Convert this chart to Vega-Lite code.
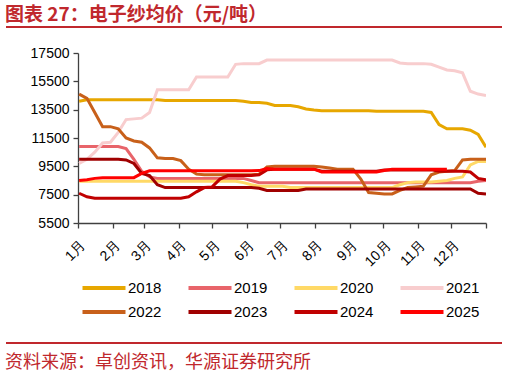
{
  "$schema": "https://vega.github.io/schema/vega-lite/v6.json",
  "padding": {"left": 5, "right": 5, "top": 6, "bottom": 5},
  "background": "white",
  "columns": 1,
  "align": "none",
  "spacing": 18,
  "resolve": {"scale": {"color": "independent", "x": "independent", "y": "independent"}, "legend": {"color": "independent"}},
  "config": {
    "view": {"stroke": null},
    "font": "Liberation Sans",
    "axis": {"grid": false, "domainColor": "#404040", "tickColor": "#404040", "labelColor": "#000000", "labelFontSize": 14, "labelFont": "Liberation Sans", "domainWidth": 1.3, "tickWidth": 1.3, "tickSize": 5}
  },
  "datasets": {
    "band": [{"a": 0, "b": 1}],
    "prices": [
{"y":"2018","d":2,"p":14100},{"y":"2018","d":9,"p":14200},{"y":"2018","d":16,"p":14200},{"y":"2018","d":23,"p":14200},{"y":"2018","d":30,"p":14200},{"y":"2018","d":37,"p":14200},{"y":"2018","d":44,"p":14200},{"y":"2018","d":51,"p":14200},{"y":"2018","d":58,"p":14200},{"y":"2018","d":65,"p":14200},{"y":"2018","d":72,"p":14200},{"y":"2018","d":79,"p":14150},{"y":"2018","d":86,"p":14150},{"y":"2018","d":93,"p":14150},{"y":"2018","d":100,"p":14150},{"y":"2018","d":107,"p":14150},{"y":"2018","d":114,"p":14150},{"y":"2018","d":121,"p":14150},{"y":"2018","d":128,"p":14150},{"y":"2018","d":135,"p":14150},{"y":"2018","d":142,"p":14150},{"y":"2018","d":149,"p":14100},{"y":"2018","d":156,"p":14000},{"y":"2018","d":163,"p":14000},{"y":"2018","d":170,"p":13950},{"y":"2018","d":177,"p":13800},{"y":"2018","d":184,"p":13800},{"y":"2018","d":191,"p":13800},{"y":"2018","d":198,"p":13700},{"y":"2018","d":205,"p":13550},{"y":"2018","d":212,"p":13480},{"y":"2018","d":219,"p":13430},{"y":"2018","d":226,"p":13430},{"y":"2018","d":233,"p":13430},{"y":"2018","d":240,"p":13430},{"y":"2018","d":247,"p":13430},{"y":"2018","d":254,"p":13430},{"y":"2018","d":261,"p":13430},{"y":"2018","d":268,"p":13380},{"y":"2018","d":275,"p":13380},{"y":"2018","d":282,"p":13380},{"y":"2018","d":289,"p":13380},{"y":"2018","d":296,"p":13380},{"y":"2018","d":303,"p":13380},{"y":"2018","d":310,"p":13380},{"y":"2018","d":317,"p":13300},{"y":"2018","d":324,"p":12450},{"y":"2018","d":331,"p":12150},{"y":"2018","d":338,"p":12150},{"y":"2018","d":345,"p":12150},{"y":"2018","d":352,"p":12050},{"y":"2018","d":359,"p":11750},{"y":"2018","d":366,"p":10850},
{"y":"2019","d":2,"p":10900},{"y":"2019","d":9,"p":10900},{"y":"2019","d":16,"p":10900},{"y":"2019","d":23,"p":10900},{"y":"2019","d":30,"p":10900},{"y":"2019","d":37,"p":10900},{"y":"2019","d":44,"p":10750},{"y":"2019","d":51,"p":10000},{"y":"2019","d":58,"p":9150},{"y":"2019","d":65,"p":8750},{"y":"2019","d":72,"p":8650},{"y":"2019","d":79,"p":8650},{"y":"2019","d":86,"p":8650},{"y":"2019","d":93,"p":8650},{"y":"2019","d":100,"p":8650},{"y":"2019","d":107,"p":8650},{"y":"2019","d":114,"p":8650},{"y":"2019","d":121,"p":8650},{"y":"2019","d":128,"p":8650},{"y":"2019","d":135,"p":8650},{"y":"2019","d":142,"p":8650},{"y":"2019","d":149,"p":8650},{"y":"2019","d":156,"p":8500},{"y":"2019","d":163,"p":8350},{"y":"2019","d":170,"p":8350},{"y":"2019","d":177,"p":8350},{"y":"2019","d":184,"p":8350},{"y":"2019","d":191,"p":8350},{"y":"2019","d":198,"p":8350},{"y":"2019","d":205,"p":8350},{"y":"2019","d":212,"p":8350},{"y":"2019","d":219,"p":8350},{"y":"2019","d":226,"p":8350},{"y":"2019","d":233,"p":8350},{"y":"2019","d":240,"p":8350},{"y":"2019","d":247,"p":8350},{"y":"2019","d":254,"p":8350},{"y":"2019","d":261,"p":8350},{"y":"2019","d":268,"p":8350},{"y":"2019","d":275,"p":8350},{"y":"2019","d":282,"p":8350},{"y":"2019","d":289,"p":8350},{"y":"2019","d":296,"p":8350},{"y":"2019","d":303,"p":8350},{"y":"2019","d":310,"p":8350},{"y":"2019","d":317,"p":8350},{"y":"2019","d":324,"p":8350},{"y":"2019","d":331,"p":8350},{"y":"2019","d":338,"p":8350},{"y":"2019","d":345,"p":8350},{"y":"2019","d":352,"p":8350},{"y":"2019","d":359,"p":8450},{"y":"2019","d":366,"p":8500},
{"y":"2020","d":2,"p":8450},{"y":"2020","d":9,"p":8450},{"y":"2020","d":16,"p":8450},{"y":"2020","d":23,"p":8450},{"y":"2020","d":30,"p":8450},{"y":"2020","d":37,"p":8450},{"y":"2020","d":44,"p":8450},{"y":"2020","d":51,"p":8450},{"y":"2020","d":58,"p":8450},{"y":"2020","d":65,"p":8450},{"y":"2020","d":72,"p":8450},{"y":"2020","d":79,"p":8450},{"y":"2020","d":86,"p":8450},{"y":"2020","d":93,"p":8450},{"y":"2020","d":100,"p":8450},{"y":"2020","d":107,"p":8450},{"y":"2020","d":114,"p":8450},{"y":"2020","d":121,"p":8450},{"y":"2020","d":128,"p":8450},{"y":"2020","d":135,"p":8450},{"y":"2020","d":142,"p":8450},{"y":"2020","d":149,"p":8350},{"y":"2020","d":156,"p":8200},{"y":"2020","d":163,"p":8100},{"y":"2020","d":170,"p":8100},{"y":"2020","d":177,"p":8100},{"y":"2020","d":184,"p":8100},{"y":"2020","d":191,"p":8000},{"y":"2020","d":198,"p":8000},{"y":"2020","d":205,"p":8000},{"y":"2020","d":212,"p":8000},{"y":"2020","d":219,"p":8000},{"y":"2020","d":226,"p":8000},{"y":"2020","d":233,"p":8000},{"y":"2020","d":240,"p":8000},{"y":"2020","d":247,"p":8000},{"y":"2020","d":254,"p":8000},{"y":"2020","d":261,"p":8000},{"y":"2020","d":268,"p":8000},{"y":"2020","d":275,"p":8000},{"y":"2020","d":282,"p":8000},{"y":"2020","d":289,"p":8200},{"y":"2020","d":296,"p":8350},{"y":"2020","d":303,"p":8400},{"y":"2020","d":310,"p":8400},{"y":"2020","d":317,"p":8400},{"y":"2020","d":324,"p":8450},{"y":"2020","d":331,"p":8500},{"y":"2020","d":338,"p":8650},{"y":"2020","d":345,"p":8750},{"y":"2020","d":352,"p":9600},{"y":"2020","d":359,"p":9850},{"y":"2020","d":366,"p":9850},
{"y":"2021","d":2,"p":9700},{"y":"2021","d":9,"p":10000},{"y":"2021","d":16,"p":10500},{"y":"2021","d":23,"p":11150},{"y":"2021","d":30,"p":11200},{"y":"2021","d":37,"p":11900},{"y":"2021","d":44,"p":12800},{"y":"2021","d":51,"p":12850},{"y":"2021","d":58,"p":12900},{"y":"2021","d":65,"p":13300},{"y":"2021","d":72,"p":14900},{"y":"2021","d":79,"p":14900},{"y":"2021","d":86,"p":14900},{"y":"2021","d":93,"p":14900},{"y":"2021","d":100,"p":14900},{"y":"2021","d":107,"p":15800},{"y":"2021","d":114,"p":15800},{"y":"2021","d":121,"p":15800},{"y":"2021","d":128,"p":15800},{"y":"2021","d":135,"p":15800},{"y":"2021","d":142,"p":16700},{"y":"2021","d":149,"p":16750},{"y":"2021","d":156,"p":16750},{"y":"2021","d":163,"p":16750},{"y":"2021","d":170,"p":17000},{"y":"2021","d":177,"p":17000},{"y":"2021","d":184,"p":17000},{"y":"2021","d":191,"p":17000},{"y":"2021","d":198,"p":17000},{"y":"2021","d":205,"p":17000},{"y":"2021","d":212,"p":17000},{"y":"2021","d":219,"p":17000},{"y":"2021","d":226,"p":17000},{"y":"2021","d":233,"p":17000},{"y":"2021","d":240,"p":17000},{"y":"2021","d":247,"p":17000},{"y":"2021","d":254,"p":17000},{"y":"2021","d":261,"p":17000},{"y":"2021","d":268,"p":17000},{"y":"2021","d":275,"p":17000},{"y":"2021","d":282,"p":17000},{"y":"2021","d":289,"p":16800},{"y":"2021","d":296,"p":16750},{"y":"2021","d":303,"p":16750},{"y":"2021","d":310,"p":16750},{"y":"2021","d":317,"p":16700},{"y":"2021","d":324,"p":16500},{"y":"2021","d":331,"p":16300},{"y":"2021","d":338,"p":16250},{"y":"2021","d":345,"p":16100},{"y":"2021","d":352,"p":14800},{"y":"2021","d":359,"p":14600},{"y":"2021","d":366,"p":14500},
{"y":"2022","d":2,"p":14600},{"y":"2022","d":9,"p":14300},{"y":"2022","d":16,"p":13300},{"y":"2022","d":23,"p":12300},{"y":"2022","d":30,"p":12300},{"y":"2022","d":37,"p":12150},{"y":"2022","d":44,"p":11500},{"y":"2022","d":51,"p":11290},{"y":"2022","d":58,"p":11200},{"y":"2022","d":65,"p":10800},{"y":"2022","d":72,"p":10100},{"y":"2022","d":79,"p":10050},{"y":"2022","d":86,"p":10050},{"y":"2022","d":93,"p":9900},{"y":"2022","d":100,"p":9300},{"y":"2022","d":107,"p":8950},{"y":"2022","d":114,"p":8900},{"y":"2022","d":121,"p":8900},{"y":"2022","d":128,"p":8900},{"y":"2022","d":135,"p":8900},{"y":"2022","d":142,"p":8900},{"y":"2022","d":149,"p":8900},{"y":"2022","d":156,"p":8900},{"y":"2022","d":163,"p":8950},{"y":"2022","d":170,"p":9450},{"y":"2022","d":177,"p":9500},{"y":"2022","d":184,"p":9500},{"y":"2022","d":191,"p":9500},{"y":"2022","d":198,"p":9500},{"y":"2022","d":205,"p":9500},{"y":"2022","d":212,"p":9500},{"y":"2022","d":219,"p":9450},{"y":"2022","d":226,"p":9380},{"y":"2022","d":233,"p":9300},{"y":"2022","d":240,"p":9300},{"y":"2022","d":247,"p":9300},{"y":"2022","d":254,"p":8600},{"y":"2022","d":261,"p":7650},{"y":"2022","d":268,"p":7600},{"y":"2022","d":275,"p":7550},{"y":"2022","d":282,"p":7550},{"y":"2022","d":289,"p":7800},{"y":"2022","d":296,"p":8000},{"y":"2022","d":303,"p":8050},{"y":"2022","d":310,"p":8100},{"y":"2022","d":317,"p":8900},{"y":"2022","d":324,"p":9100},{"y":"2022","d":331,"p":9150},{"y":"2022","d":338,"p":9200},{"y":"2022","d":345,"p":9950},{"y":"2022","d":352,"p":10000},{"y":"2022","d":359,"p":10000},{"y":"2022","d":366,"p":10000},
{"y":"2023","d":2,"p":10000},{"y":"2023","d":9,"p":10000},{"y":"2023","d":16,"p":10000},{"y":"2023","d":23,"p":10000},{"y":"2023","d":30,"p":10000},{"y":"2023","d":37,"p":10000},{"y":"2023","d":44,"p":9950},{"y":"2023","d":51,"p":9700},{"y":"2023","d":58,"p":9000},{"y":"2023","d":65,"p":8850},{"y":"2023","d":72,"p":8200},{"y":"2023","d":79,"p":8000},{"y":"2023","d":86,"p":8000},{"y":"2023","d":93,"p":8000},{"y":"2023","d":100,"p":8000},{"y":"2023","d":107,"p":8000},{"y":"2023","d":114,"p":8000},{"y":"2023","d":121,"p":8000},{"y":"2023","d":128,"p":8000},{"y":"2023","d":135,"p":8000},{"y":"2023","d":142,"p":8000},{"y":"2023","d":149,"p":8000},{"y":"2023","d":156,"p":8000},{"y":"2023","d":163,"p":7950},{"y":"2023","d":170,"p":7800},{"y":"2023","d":177,"p":7800},{"y":"2023","d":184,"p":7800},{"y":"2023","d":191,"p":7800},{"y":"2023","d":198,"p":7800},{"y":"2023","d":205,"p":7900},{"y":"2023","d":212,"p":7900},{"y":"2023","d":219,"p":7900},{"y":"2023","d":226,"p":7900},{"y":"2023","d":233,"p":7900},{"y":"2023","d":240,"p":7900},{"y":"2023","d":247,"p":7900},{"y":"2023","d":254,"p":7900},{"y":"2023","d":261,"p":7900},{"y":"2023","d":268,"p":7900},{"y":"2023","d":275,"p":7900},{"y":"2023","d":282,"p":7900},{"y":"2023","d":289,"p":7900},{"y":"2023","d":296,"p":7900},{"y":"2023","d":303,"p":7900},{"y":"2023","d":310,"p":7900},{"y":"2023","d":317,"p":7900},{"y":"2023","d":324,"p":7900},{"y":"2023","d":331,"p":7900},{"y":"2023","d":338,"p":7900},{"y":"2023","d":345,"p":7900},{"y":"2023","d":352,"p":7900},{"y":"2023","d":359,"p":7600},{"y":"2023","d":366,"p":7550},
{"y":"2024","d":2,"p":7600},{"y":"2024","d":9,"p":7350},{"y":"2024","d":16,"p":7250},{"y":"2024","d":23,"p":7250},{"y":"2024","d":30,"p":7250},{"y":"2024","d":37,"p":7250},{"y":"2024","d":44,"p":7250},{"y":"2024","d":51,"p":7250},{"y":"2024","d":58,"p":7250},{"y":"2024","d":65,"p":7250},{"y":"2024","d":72,"p":7250},{"y":"2024","d":79,"p":7250},{"y":"2024","d":86,"p":7250},{"y":"2024","d":93,"p":7250},{"y":"2024","d":100,"p":7350},{"y":"2024","d":107,"p":7700},{"y":"2024","d":114,"p":8000},{"y":"2024","d":121,"p":8050},{"y":"2024","d":128,"p":8600},{"y":"2024","d":135,"p":8850},{"y":"2024","d":142,"p":8850},{"y":"2024","d":149,"p":8850},{"y":"2024","d":156,"p":8850},{"y":"2024","d":163,"p":8900},{"y":"2024","d":170,"p":9250},{"y":"2024","d":177,"p":9300},{"y":"2024","d":184,"p":9300},{"y":"2024","d":191,"p":9300},{"y":"2024","d":198,"p":9300},{"y":"2024","d":205,"p":9300},{"y":"2024","d":212,"p":9300},{"y":"2024","d":219,"p":9150},{"y":"2024","d":226,"p":9150},{"y":"2024","d":233,"p":9150},{"y":"2024","d":240,"p":9150},{"y":"2024","d":247,"p":9150},{"y":"2024","d":254,"p":9150},{"y":"2024","d":261,"p":9150},{"y":"2024","d":268,"p":9150},{"y":"2024","d":275,"p":9250},{"y":"2024","d":282,"p":9250},{"y":"2024","d":289,"p":9250},{"y":"2024","d":296,"p":9250},{"y":"2024","d":303,"p":9250},{"y":"2024","d":310,"p":9250},{"y":"2024","d":317,"p":9250},{"y":"2024","d":324,"p":9150},{"y":"2024","d":331,"p":9150},{"y":"2024","d":338,"p":9150},{"y":"2024","d":345,"p":9150},{"y":"2024","d":352,"p":9100},{"y":"2024","d":359,"p":8650},{"y":"2024","d":366,"p":8550},
{"y":"2025","d":2,"p":8500},{"y":"2025","d":9,"p":8550},{"y":"2025","d":16,"p":8650},{"y":"2025","d":23,"p":8700},{"y":"2025","d":30,"p":8700},{"y":"2025","d":37,"p":8700},{"y":"2025","d":44,"p":8700},{"y":"2025","d":51,"p":8700},{"y":"2025","d":58,"p":9000},{"y":"2025","d":65,"p":9180},{"y":"2025","d":72,"p":9180},{"y":"2025","d":79,"p":9180},{"y":"2025","d":86,"p":9180},{"y":"2025","d":93,"p":9180},{"y":"2025","d":100,"p":9180},{"y":"2025","d":107,"p":9180},{"y":"2025","d":114,"p":9180},{"y":"2025","d":121,"p":9180},{"y":"2025","d":128,"p":9180},{"y":"2025","d":135,"p":9180},{"y":"2025","d":142,"p":9180},{"y":"2025","d":149,"p":9180},{"y":"2025","d":156,"p":9180},{"y":"2025","d":163,"p":9200},{"y":"2025","d":170,"p":9350},{"y":"2025","d":177,"p":9300},{"y":"2025","d":184,"p":9300},{"y":"2025","d":191,"p":9300},{"y":"2025","d":198,"p":9300},{"y":"2025","d":205,"p":9300},{"y":"2025","d":212,"p":9300},{"y":"2025","d":219,"p":9100},{"y":"2025","d":226,"p":9100},{"y":"2025","d":233,"p":9100},{"y":"2025","d":240,"p":9100},{"y":"2025","d":247,"p":9100},{"y":"2025","d":254,"p":9100},{"y":"2025","d":261,"p":9100},{"y":"2025","d":268,"p":9100},{"y":"2025","d":275,"p":9200},{"y":"2025","d":282,"p":9300},{"y":"2025","d":289,"p":9300},{"y":"2025","d":296,"p":9300},{"y":"2025","d":303,"p":9300},{"y":"2025","d":310,"p":9300},{"y":"2025","d":317,"p":9300},{"y":"2025","d":324,"p":9300},{"y":"2025","d":331,"p":9300}
    ]
  },
  "concat": [
    {
      "width": 424,
      "height": 2,
      "title": {"text": "图表 27：电子纱均价（元/吨）", "anchor": "start", "frame": "bounds", "font": "Noto Sans CJK SC", "fontSize": 19, "fontWeight": "bold", "color": "#C0282D", "offset": 1},
      "data": {"name": "band"},
      "mark": {"type": "rule", "stroke": "#C0282D", "strokeWidth": 2, "opacity": 1},
      "encoding": {
        "x": {"field": "a", "type": "quantitative", "scale": {"domain": [0, 1], "range": [-72, 424]}, "axis": null},
        "x2": {"field": "b"}
      }
    },
    {
      "width": 408,
      "height": 170,
      "data": {"name": "prices"},
      "mark": {"type": "line", "strokeWidth": 3, "clip": true},
      "encoding": {
        "x": {
          "field": "d", "type": "quantitative",
          "scale": {"domain": [1, 366], "nice": false, "zero": false},
          "axis": {
            "title": null,
            "values": [1, 32, 60, 91, 121, 152, 182, 213, 244, 274, 305, 335, 366],
            "labelExpr": "datum.value >= 366 ? '' : (indexof([1,32,60,91,121,152,182,213,244,274,305,335], datum.value) + 1) + '月'",
            "labelAngle": -45,
            "labelPadding": 10,
            "labelFontSize": 14
          }
        },
        "y": {
          "field": "p", "type": "quantitative",
          "scale": {"domain": [5500, 17500], "nice": false, "zero": false},
          "axis": {
            "values": [5500, 7500, 9500, 11500, 13500, 15500, 17500],
            "format": "d",
            "labelPadding": 4,
            "title": null
          }
        },
        "color": {
          "field": "y", "type": "nominal",
          "scale": {
            "domain": ["2018", "2019", "2020", "2021", "2022", "2023", "2024", "2025"],
            "range": ["#E7A700", "#E8646A", "#FFD966", "#F8CDCE", "#C8601A", "#A00000", "#C00000", "#FF0000"]
          },
          "legend": {
            "title": null,
            "orient": "bottom",
            "direction": "horizontal",
            "columns": 4,
            "symbolType": "M-2.15,0H2.15",
            "symbolStrokeWidth": 4,
            "symbolSize": 400,
            "symbolOffset": 10,
            "labelFontSize": 15,
            "labelColor": "#000000",
            "labelOffset": 12,
            "columnPadding": 18,
            "rowPadding": 4,
            "offset": 3,
            "padding": 4
          }
        }
      }
    },
    {
      "width": 424,
      "height": 2,
      "title": {"text": "资料来源：卓创资讯，华源证券研究所", "orient": "bottom", "anchor": "start", "frame": "bounds", "font": "Noto Sans CJK SC", "fontSize": 18, "fontWeight": "normal", "color": "#C0282D", "offset": 10},
      "data": {"name": "band"},
      "mark": {"type": "rule", "stroke": "#C0282D", "strokeWidth": 2, "opacity": 1},
      "encoding": {
        "x": {"field": "a", "type": "quantitative", "scale": {"domain": [0, 1], "range": [-72, 424]}, "axis": null},
        "x2": {"field": "b"}
      }
    }
  ]
}
